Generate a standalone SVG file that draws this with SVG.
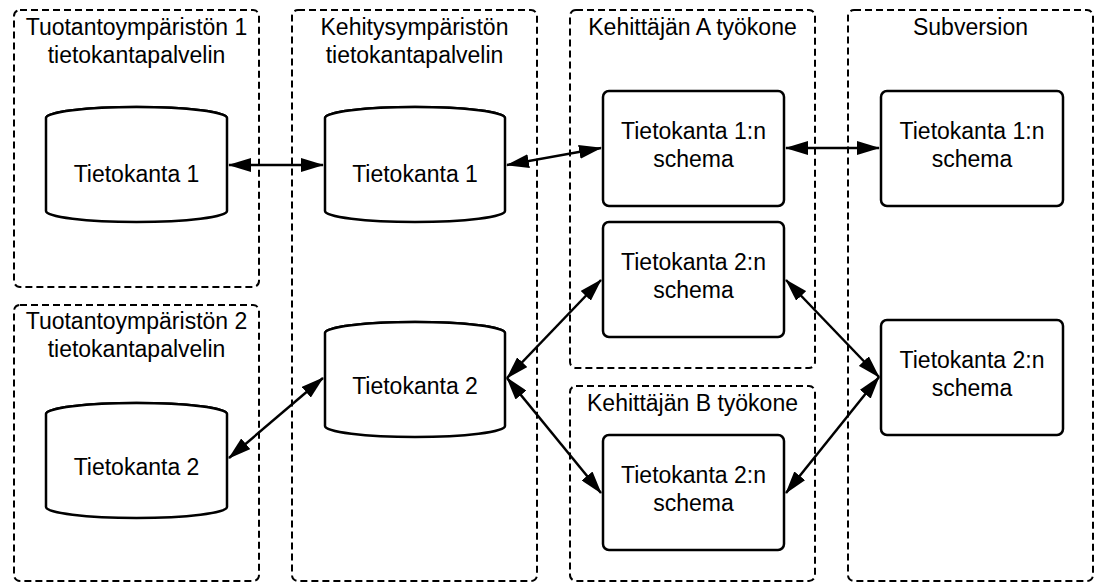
<svg xmlns="http://www.w3.org/2000/svg" width="1096" height="583" viewBox="0 0 1096 583">
<defs>
<style>
.grp{fill:none;stroke:#000;stroke-width:2;stroke-dasharray:7 4}
.node{fill:#fff;stroke:#000;stroke-width:2.5}
.t{font-family:"Liberation Sans",Arial,sans-serif;font-size:23px;fill:#000;text-anchor:middle}
.c{fill:none;stroke:#000;stroke-width:2.5}
</style>
<marker id="ah" viewBox="0 0 23 14" refX="22" refY="7" markerWidth="23" markerHeight="14" markerUnits="userSpaceOnUse" orient="auto-start-reverse">
<path d="M0,0 L23,7 L0,14 Z" fill="#000"/>
</marker>
</defs>
<rect width="1096" height="583" fill="#fff"/>

<g id="grp-prod1">
<rect class="grp" x="14" y="10" width="245" height="277" rx="6"/>
<text class="t" x="136.5" y="35">Tuotantoympäristön 1</text>
<text class="t" x="136.5" y="63">tietokantapalvelin</text>
</g>
<g id="grp-prod2">
<rect class="grp" x="14" y="305" width="245" height="276" rx="6"/>
<text class="t" x="136.5" y="329">Tuotantoympäristön 2</text>
<text class="t" x="136.5" y="357">tietokantapalvelin</text>
</g>
<g id="grp-dev">
<rect class="grp" x="292" y="10" width="245" height="571" rx="6"/>
<text class="t" x="414.5" y="35">Kehitysympäristön</text>
<text class="t" x="414.5" y="63">tietokantapalvelin</text>
</g>
<g id="grp-devA">
<rect class="grp" x="570" y="10" width="245" height="358" rx="6"/>
<text class="t" x="692.5" y="35">Kehittäjän A työkone</text>
</g>
<g id="grp-devB">
<rect class="grp" x="570" y="386" width="245" height="195" rx="6"/>
<text class="t" x="692.5" y="411">Kehittäjän B työkone</text>
</g>
<g id="grp-svn">
<rect class="grp" x="848" y="10" width="245" height="571" rx="6"/>
<text class="t" x="970.5" y="35">Subversion</text>
</g>

<g id="connectors">
<line class="c" x1="229" y1="165" x2="323" y2="165" marker-start="url(#ah)" marker-end="url(#ah)"/>
<line class="c" x1="507" y1="165" x2="601" y2="148" marker-start="url(#ah)" marker-end="url(#ah)"/>
<line class="c" x1="786" y1="148" x2="879" y2="148" marker-start="url(#ah)" marker-end="url(#ah)"/>
<line class="c" x1="507" y1="378" x2="601" y2="280" marker-start="url(#ah)" marker-end="url(#ah)"/>
<line class="c" x1="507" y1="378" x2="601" y2="493" marker-start="url(#ah)" marker-end="url(#ah)"/>
<line class="c" x1="229" y1="458" x2="323" y2="378" marker-start="url(#ah)" marker-end="url(#ah)"/>
<line class="c" x1="786" y1="280" x2="879" y2="377" marker-start="url(#ah)" marker-end="url(#ah)"/>
<line class="c" x1="786" y1="493" x2="879" y2="377" marker-start="url(#ah)" marker-end="url(#ah)"/>
</g>

<g id="db-prod1">
<path class="node" d="M46,118 L46,211 A90.5,11 0 0 0 227,211 L227,118 A90.5,11 0 0 0 46,118 Z"/>
<path class="node" d="M46,118 A90.5,11 0 0 1 227,118"/>
<text class="t" x="136.5" y="182">Tietokanta 1</text>
</g>
<g id="db-dev1">
<path class="node" d="M325,118 L325,211 A90,11 0 0 0 505,211 L505,118 A90,11 0 0 0 325,118 Z"/>
<path class="node" d="M325,118 A90,11 0 0 1 505,118"/>
<text class="t" x="415" y="182">Tietokanta 1</text>
</g>
<g id="db-prod2">
<path class="node" d="M46,414 L46,507 A90.5,11 0 0 0 227,507 L227,414 A90.5,11 0 0 0 46,414 Z"/>
<path class="node" d="M46,414 A90.5,11 0 0 1 227,414"/>
<text class="t" x="136.5" y="475">Tietokanta 2</text>
</g>
<g id="db-dev2">
<path class="node" d="M325,333 L325,426 A90,11 0 0 0 505,426 L505,333 A90,11 0 0 0 325,333 Z"/>
<path class="node" d="M325,333 A90,11 0 0 1 505,333"/>
<text class="t" x="415" y="394">Tietokanta 2</text>
</g>

<g id="schema-a1">
<rect class="node" x="603" y="91" width="181" height="115" rx="6"/>
<text class="t" x="693.5" y="139">Tietokanta 1:n</text>
<text class="t" x="693.5" y="167">schema</text>
</g>
<g id="schema-a2">
<rect class="node" x="603" y="222" width="181" height="115" rx="6"/>
<text class="t" x="693.5" y="270">Tietokanta 2:n</text>
<text class="t" x="693.5" y="298">schema</text>
</g>
<g id="schema-b2">
<rect class="node" x="603" y="435" width="181" height="115" rx="6"/>
<text class="t" x="693.5" y="483">Tietokanta 2:n</text>
<text class="t" x="693.5" y="511">schema</text>
</g>
<g id="svn-1">
<rect class="node" x="881" y="91" width="182" height="115" rx="6"/>
<text class="t" x="972" y="139">Tietokanta 1:n</text>
<text class="t" x="972" y="167">schema</text>
</g>
<g id="svn-2">
<rect class="node" x="881" y="320" width="182" height="115" rx="6"/>
<text class="t" x="972" y="368">Tietokanta 2:n</text>
<text class="t" x="972" y="396">schema</text>
</g>
</svg>
